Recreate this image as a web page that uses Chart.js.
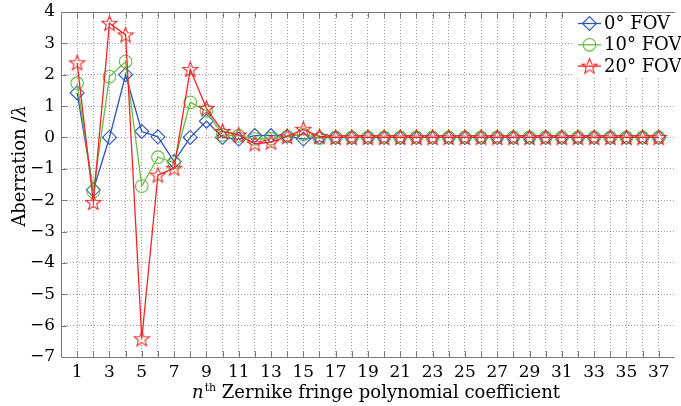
<!DOCTYPE html>
<html>
<head>
<meta charset="utf-8">
<script src="https://cdn.jsdelivr.net/npm/chart.js@4.4.0/dist/chart.umd.min.js"></script>
<style>
    html, body { margin: 0; padding: 0; background: #fff; overflow: hidden; }
    #wrap { width: 684px; height: 406px; }
</style>
</head>
<body>
<div id="wrap"><canvas id="chart" width="684" height="406"></canvas></div>
<script>
// Zernike fringe coefficient index
const coefficients = [1, 2, 3, 4, 5, 6, 7, 8, 9, 10, 11, 12, 13, 14, 15, 16, 17, 18, 19,
    20, 21, 22, 23, 24, 25, 26, 27, 28, 29, 30, 31, 32, 33, 34, 35, 36, 37];

// aberration in waves
const fov0 = [1.42, -1.67, 0.0, 2.0, 0.19, 0.02, -0.77, 0.0, 0.52, 0.0, -0.05, 0.06, 0.06, 0.04, -0.05, 0.0,
    0, 0, 0, 0, 0, 0, 0, 0, 0, 0, 0, 0, 0, 0, 0, 0, 0, 0, 0, 0, 0];
const fov10 = [1.73, -1.73, 1.94, 2.42, -1.55, -0.63, -0.8, 1.12, 0.85, 0.08, 0.05, -0.05, -0.04, 0.03, 0.1, -0.02,
    0, 0, 0, 0, 0, 0, 0, 0, 0, 0, 0, 0, 0, 0, 0, 0, 0, 0, 0, 0, 0];
const fov20 = [2.38, -2.07, 3.64, 3.27, -6.42, -1.2, -0.98, 2.17, 0.93, 0.19, 0.08, -0.2, -0.15, 0.03, 0.26, 0.03,
    0, 0, 0, 0, 0, 0, 0, 0, 0, 0, 0, 0, 0, 0, 0, 0, 0, 0, 0, 0, 0];

const seriesLabels = ['0° FOV', '10° FOV', '20° FOV'];
const xTickLabels = [1, 3, 5, 7, 9, 11, 13, 15, 17, 19, 21, 23, 25, 27, 29, 31, 33, 35, 37];

const FONT = '"DejaVu Serif", "Liberation Serif", serif';
const BLUE = '#2c55b9';
const GREEN = '#62bf45';
const RED = '#f02626';
const AXIS = '#7a7a7a';
const GRID = 'rgba(0,0,0,0.38)';
const NONE = 'rgba(0,0,0,0)';

// hollow five pointed star marker
function makeStar(color) {
    const c = document.createElement('canvas');
    c.width = 19;
    c.height = 19;
    const g = c.getContext('2d');
    g.strokeStyle = color;
    g.lineWidth = 1.1;
    g.beginPath();
    for (let i = 0; i < 10; i++) {
        const r = i % 2 === 0 ? 8 : 3.4;
        const a = -Math.PI / 2 + i * Math.PI / 5;
        const px = 9.5 + r * Math.cos(a);
        const py = 10 + r * Math.sin(a);
        if (i === 0) g.moveTo(px, py); else g.lineTo(px, py);
    }
    g.closePath();
    g.stroke();
    return c;
}
const starImg = makeStar(RED);

const toPoints = (vals) => vals.map((v, i) => ({ x: coefficients[i], y: v }));

const series = [
    { label: seriesLabels[0], data: fov0, color: BLUE, style: 'rectRot', radius: 7, order: 3 },
    { label: seriesLabels[1], data: fov10, color: GREEN, style: 'circle', radius: 6.3, order: 2 },
    { label: seriesLabels[2], data: fov20, color: RED, style: starImg, radius: 8, order: 1 }
];

const decorations = {
    id: 'decorations',
    afterDraw(chart) {
        const { ctx, chartArea: a, scales } = chart;
        ctx.save();

        // inward ticks
        ctx.strokeStyle = AXIS;
        ctx.lineWidth = 1;
        ctx.beginPath();
        for (let v = 1; v <= 37; v++) {
            const px = Math.round(scales.x.getPixelForValue(v)) + 0.5;
            ctx.moveTo(px, a.bottom);
            ctx.lineTo(px, a.bottom - 6);
            ctx.moveTo(px, a.top);
            ctx.lineTo(px, a.top + 6);
        }
        for (let v = -6; v <= 3; v++) {
            const py = Math.round(scales.y.getPixelForValue(v)) + 0.5;
            ctx.moveTo(a.left, py);
            ctx.lineTo(a.left + 6, py);
        }
        ctx.stroke();

        // legend
        const lx = 572;
        ctx.fillStyle = '#fff';
        ctx.fillRect(lx, a.top + 1, a.right - lx, 64);
        ctx.font = '18px ' + FONT;
        ctx.textBaseline = 'middle';
        ctx.textAlign = 'left';
        series.forEach((s, i) => {
            const y = 23.5 + i * 21.3;
            ctx.strokeStyle = s.color;
            ctx.fillStyle = NONE;
            ctx.lineWidth = 1.3;
            ctx.beginPath();
            ctx.moveTo(578, y);
            ctx.lineTo(601, y);
            ctx.stroke();
            ctx.lineWidth = 1.1;
            Chart.helpers.drawPoint(ctx, { pointStyle: s.style, radius: s.radius, borderWidth: 1.1, rotation: 0 }, 589.5, y);
            ctx.fillStyle = '#000';
            ctx.fillText(s.label, 604, y + 1);
        });

        // frame
        ctx.strokeStyle = AXIS;
        ctx.lineWidth = 1;
        ctx.beginPath();
        ctx.moveTo(a.right, a.top + 0.5);
        ctx.lineTo(a.left + 0.5, a.top + 0.5);
        ctx.lineTo(a.left + 0.5, a.bottom + 0.5);
        ctx.lineTo(a.right, a.bottom + 0.5);
        ctx.stroke();

        // x axis title with superscript
        ctx.fillStyle = '#000';
        ctx.textBaseline = 'alphabetic';
        ctx.textAlign = 'left';
        const rest = ' Zernike fringe polynomial coefficient';
        ctx.font = 'italic 18px ' + FONT;
        const wN = ctx.measureText('n').width;
        ctx.font = '18px ' + FONT;
        const wRest = ctx.measureText(rest).width;
        ctx.font = '11px ' + FONT;
        const wTh = ctx.measureText('th').width;
        const total = wN + wTh + wRest + 1;
        const x0 = 376 - total / 2;
        const base = 398;
        ctx.font = 'italic 18px ' + FONT;
        ctx.fillText('n', x0, base);
        ctx.font = '11px ' + FONT;
        ctx.fillText('th', x0 + wN + 1, base - 7);
        ctx.font = '18px ' + FONT;
        ctx.fillText(rest, x0 + wN + wTh + 1, base);

        // y axis title, lambda in italics
        ctx.translate(20, 166);
        ctx.rotate(-Math.PI / 2);
        ctx.textBaseline = 'middle';
        ctx.font = '18px ' + FONT;
        const part = 'Aberration /';
        const wPart = ctx.measureText(part).width;
        ctx.font = 'italic 18px ' + FONT;
        const wLam = ctx.measureText('λ').width;
        const start = -(wPart + wLam) / 2;
        ctx.font = '18px ' + FONT;
        ctx.fillText(part, start, 0);
        ctx.font = 'italic 18px ' + FONT;
        ctx.fillText('λ', start + wPart, 0);
        ctx.restore();
    }
};

const chart = new Chart(document.getElementById('chart'), {
    type: 'line',
    data: {
        datasets: series.map(s => ({
            label: s.label,
            data: toPoints(s.data),
            borderColor: s.color,
            backgroundColor: NONE,
            borderWidth: 1.3,
            pointStyle: s.style,
            pointRadius: s.radius,
            pointBorderWidth: 1.1,
            pointBackgroundColor: NONE,
            pointBorderColor: s.color,
            tension: 0,
            order: s.order
        }))
    },
    options: {
        responsive: false,
        animation: false,
        events: [],
        layout: { padding: { top: 12, right: 1, left: 0, bottom: 0 } },
        plugins: {
            legend: { display: false },
            tooltip: { enabled: false }
        },
        scales: {
            x: {
                type: 'linear',
                min: 0,
                max: 38,
                afterBuildTicks: (scale) => {
                    const t = [];
                    for (let v = 0; v <= 38; v++) t.push({ value: v });
                    scale.ticks = t;
                },
                afterFit: (scale) => { scale.height = 49; },
                ticks: {
                    autoSkip: false,
                    maxRotation: 0,
                    padding: 5,
                    color: '#000',
                    font: { family: FONT, size: 17 },
                    callback: (v) => xTickLabels.includes(v) ? String(v) : ''
                },
                grid: {
                    drawTicks: false,
                    color: (c) => (c.tick && (c.tick.value === 0 || c.tick.value === 38)) ? NONE : GRID,
                    lineWidth: 1
                },
                border: { display: false, dash: [1, 2] }
            },
            y: {
                min: -7,
                max: 4,
                afterFit: (scale) => { scale.width = 61; },
                ticks: {
                    stepSize: 1,
                    padding: 0,
                    color: '#000',
                    font: { family: FONT, size: 17 },
                    callback: (v) => v < 0 ? '\u2212' + Math.abs(v) : String(v)
                },
                grid: {
                    drawTicks: true,
                    tickLength: 6,
                    tickColor: NONE,
                    color: (c) => (c.tick && (c.tick.value === -7 || c.tick.value === 4)) ? NONE : GRID,
                    lineWidth: 1
                },
                border: { display: false, dash: [1, 2] }
            }
        }
    },
    plugins: [decorations]
});
</script>
</body>
</html>
